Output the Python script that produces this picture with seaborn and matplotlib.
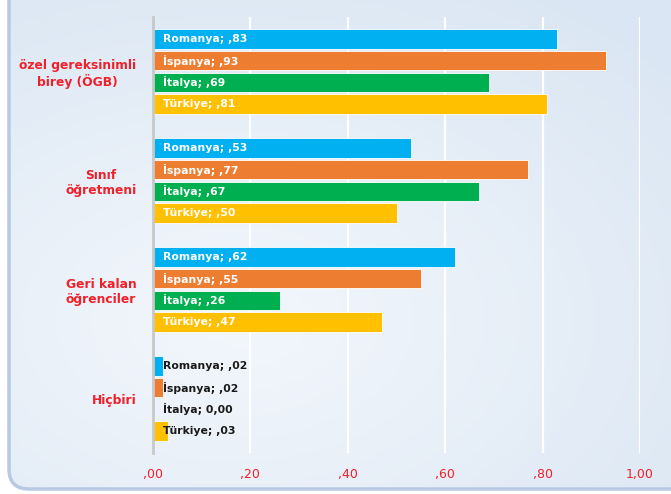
import numpy as np
import pandas as pd
import seaborn as sns
import matplotlib.pyplot as plt
from matplotlib.patches import FancyBboxPatch
from matplotlib.transforms import IdentityTransform

# chart data
categories = ["özel gereksinimli\nbirey (ÖGB)", "Sınıf\nöğretmeni",
              "Geri kalan\nöğrenciler", "Hiçbiri"]
countries = ["Romanya", "İspanya", "İtalya", "Türkiye"]
romanya = [0.83, 0.53, 0.62, 0.02]
ispanya = [0.93, 0.77, 0.55, 0.02]
italya = [0.69, 0.67, 0.26, 0.00]
turkiye = [0.81, 0.50, 0.47, 0.03]
x_ticks = [0.0, 0.2, 0.4, 0.6, 0.8, 1.0]
x_tick_labels = [",00", ",20", ",40", ",60", ",80", "1,00"]

colors = {"Romanya": "#00b0f0", "İspanya": "#ed7d31",
          "İtalya": "#00b050", "Türkiye": "#ffc000"}
RED = "#f0202a"

series = [romanya, ispanya, italya, turkiye]
df = pd.DataFrame({
    "kategori": [c for _ in countries for c in categories],
    "ulke": [u for u in countries for _ in categories],
    "deger": [v for s in series for v in s],
})


def fmt(v):
    if v == 0:
        return "0,00"
    return f"{v:.2f}"[1:].replace(".", ",")


sns.set_style("white")
plt.rcParams["font.family"] = ["DejaVu Sans"]

fig = plt.figure(figsize=(6.71, 4.94), dpi=100)
fig.patch.set_facecolor("white")

# rounded light-blue background panel with soft gradient
bg_ax = fig.add_axes([0, 0, 1, 1], zorder=0)
bg_ax.set_axis_off()
gx, gy = np.meshgrid(np.linspace(0, 1, 200), np.linspace(0, 1, 150))
grad = np.sqrt(((gx - 0.35) / 1.0) ** 2 + ((gy - 0.35) / 0.9) ** 2)
img = bg_ax.imshow(grad, cmap=sns.blend_palette(["#f3f7fc", "#dae6f3"], as_cmap=True),
                   extent=[0, 1, 0, 1], aspect="auto", origin="lower", vmin=0, vmax=0.9)
panel = FancyBboxPatch((9, 5), 700, 520, boxstyle="round,pad=0,rounding_size=20",
                       transform=IdentityTransform(), facecolor="none",
                       edgecolor="#b7c9e3", linewidth=2.5)
fig.add_artist(panel)
img.set_clip_path(panel)

ax = fig.add_axes([153 / 671, 1 - 453 / 494, 487 / 671, 436 / 494], zorder=1)
ax.set_facecolor("none")
sns.barplot(data=df, y="kategori", x="deger", hue="ulke", orient="h",
            palette=colors, width=0.8, gap=0.1, legend=False, ax=ax,
            edgecolor="white", linewidth=0.6, saturation=1)

ax.set_xlim(0, 1.0)
ax.set_ylim(3.5, -0.5)
ax.set_xticks(x_ticks)
ax.set_xticklabels(x_tick_labels, color=RED, fontsize=9)
ax.set_xlabel("")
ax.set_ylabel("")
ax.tick_params(axis="x", length=0, pad=11)
ax.tick_params(axis="y", length=0, pad=12)
for lbl in ax.get_yticklabels():
    lbl.set_color(RED)
    lbl.set_fontweight("bold")
    lbl.set_fontsize(8.8)
    lbl.set_multialignment("center")

ax.grid(axis="x", color="white", linewidth=1.6, zorder=0)
ax.set_axisbelow(True)
for side in ["top", "right", "bottom"]:
    ax.spines[side].set_visible(False)
ax.spines["left"].set_color("#c8c8c8")
ax.spines["left"].set_linewidth(2)

# bar labels inside bars (white) or next to tiny bars (black)
for country, cont, vals in zip(countries, ax.containers, series):
    for bar, v in zip(cont, vals):
        yc = bar.get_y() + bar.get_height() / 2
        col = "white" if v > 0.1 else "#1a1a1a"
        ax.text(0.02, yc, f"{country}; {fmt(v)}", color=col, fontsize=7.8,
                fontweight="bold", va="center", ha="left", zorder=5)

fig.savefig("out.png", dpi=100)
